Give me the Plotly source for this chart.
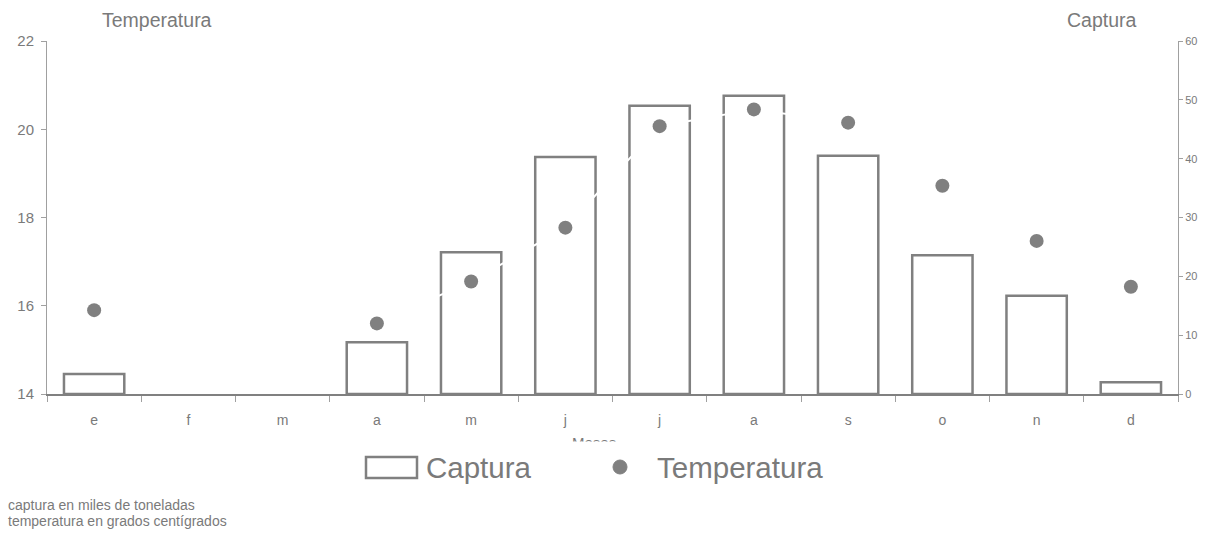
import plotly.graph_objects as go

meses = ["e", "f", "m", "a", "m ", "j", "j ", "a ", "s", "o", "n", "d"]
mes_labels = ["e", "f", "m", "a", "m", "j", "j", "a", "s", "o", "n", "d"]
captura = [3.4, None, None, 8.8, 24.1, 40.3, 49.0, 50.7, 40.5, 23.6, 16.7, 2.0]
temperatura = [15.9, None, None, 15.6, 16.55, 17.77, 20.07, 20.45, 20.15, 18.72, 17.47, 16.43]

GRAY = "#808080"
TXT = "#7a7a7a"
FONT = "Arial, Liberation Sans, sans-serif"

L, R, T, B = 47, 1178, 41, 394
def px(x):
    return (x - L) / (R - L)
def py(y):
    return (B - y) / (B - T)

fig = go.Figure()
fig.add_trace(go.Bar(
    x=meses, y=captura, yaxis="y", name="Captura",
    marker=dict(color="white", line=dict(color=GRAY, width=2.5)),
    showlegend=False,
))
fig.add_trace(go.Scatter(
    x=meses, y=temperatura, yaxis="y2", mode="lines",
    line=dict(color="white", width=2),
    showlegend=False, hoverinfo="skip", connectgaps=False,
))
fig.add_trace(go.Scatter(
    x=meses, y=temperatura, yaxis="y2", mode="markers", name="Temperatura",
    marker=dict(color=GRAY, size=14), showlegend=False,
))

def ann(text, x, y, size, xanchor="center", **kw):
    d = dict(text=text, x=px(x), y=py(y), xref="paper", yref="paper",
             xanchor=xanchor, yanchor="middle", showarrow=False,
             font=dict(size=size, color=TXT, family=FONT))
    d.update(kw)
    return d

annotations = [
    ann("Temperatura", 157, 20, 19.5),
    ann("Captura", 1102, 20, 19.5),
    ann("Meses", 594, 443, 15),
    ann(" ", 594, 448, 10, bgcolor="white", width=70, height=12, borderpad=0),
    ann("Captura", 424, 467, 29.5, xanchor="left"),
    ann("Temperatura", 655, 467, 29.5, xanchor="left"),
    ann("captura en miles de toneladas", 6, 505, 14, xanchor="left"),
    ann("temperatura en grados centígrados", 6, 521, 14, xanchor="left"),
]

shapes = [
    dict(type="rect", xref="paper", yref="paper", x0=px(366), x1=px(417),
         y0=py(478), y1=py(457), line=dict(color=GRAY, width=2.5), fillcolor="white",
         layer="above"),
    dict(type="circle", xref="paper", yref="paper", x0=px(613), x1=px(627),
         y0=py(474), y1=py(460), line=dict(color=GRAY, width=1), fillcolor=GRAY,
         layer="above"),
]

fig.update_layout(
    width=1212, height=536,
    margin=dict(l=L, r=1212 - R, t=T, b=536 - B, autoexpand=False),
    paper_bgcolor="white", plot_bgcolor="white",
    bargap=0.36,
    showlegend=False,
    font=dict(family=FONT, color=TXT),
    xaxis=dict(
        type="category", categoryorder="array", categoryarray=meses,
        tickmode="array", tickvals=meses, ticktext=mes_labels,
        range=[-0.5, 11.5], automargin=False,
        tickson="boundaries", ticks="outside", ticklen=6, tickcolor="#a0a0a0",
        showline=True, linecolor=GRAY, linewidth=1.5, showgrid=False,
        tickfont=dict(size=14, color=TXT), ticklabelstandoff=12,
        zeroline=False,
    ),
    yaxis=dict(
        range=[0, 60], dtick=10, side="right", automargin=False,
        ticks="outside", ticklen=4, tickcolor="#a0a0a0",
        showline=True, linecolor="#a0a0a0", linewidth=1, showgrid=False,
        zeroline=False, tickfont=dict(size=11, color=TXT),
    ),
    yaxis2=dict(
        range=[14, 22], dtick=2, overlaying="y", side="left", automargin=False,
        ticks="outside", ticklen=5, tickcolor="#a0a0a0",
        showline=True, linecolor="#a0a0a0", linewidth=1, showgrid=False,
        zeroline=False, tickfont=dict(size=15, color=TXT), ticklabelstandoff=4,
    ),
    annotations=annotations,
    shapes=shapes,
)

fig.write_html("out.html")
